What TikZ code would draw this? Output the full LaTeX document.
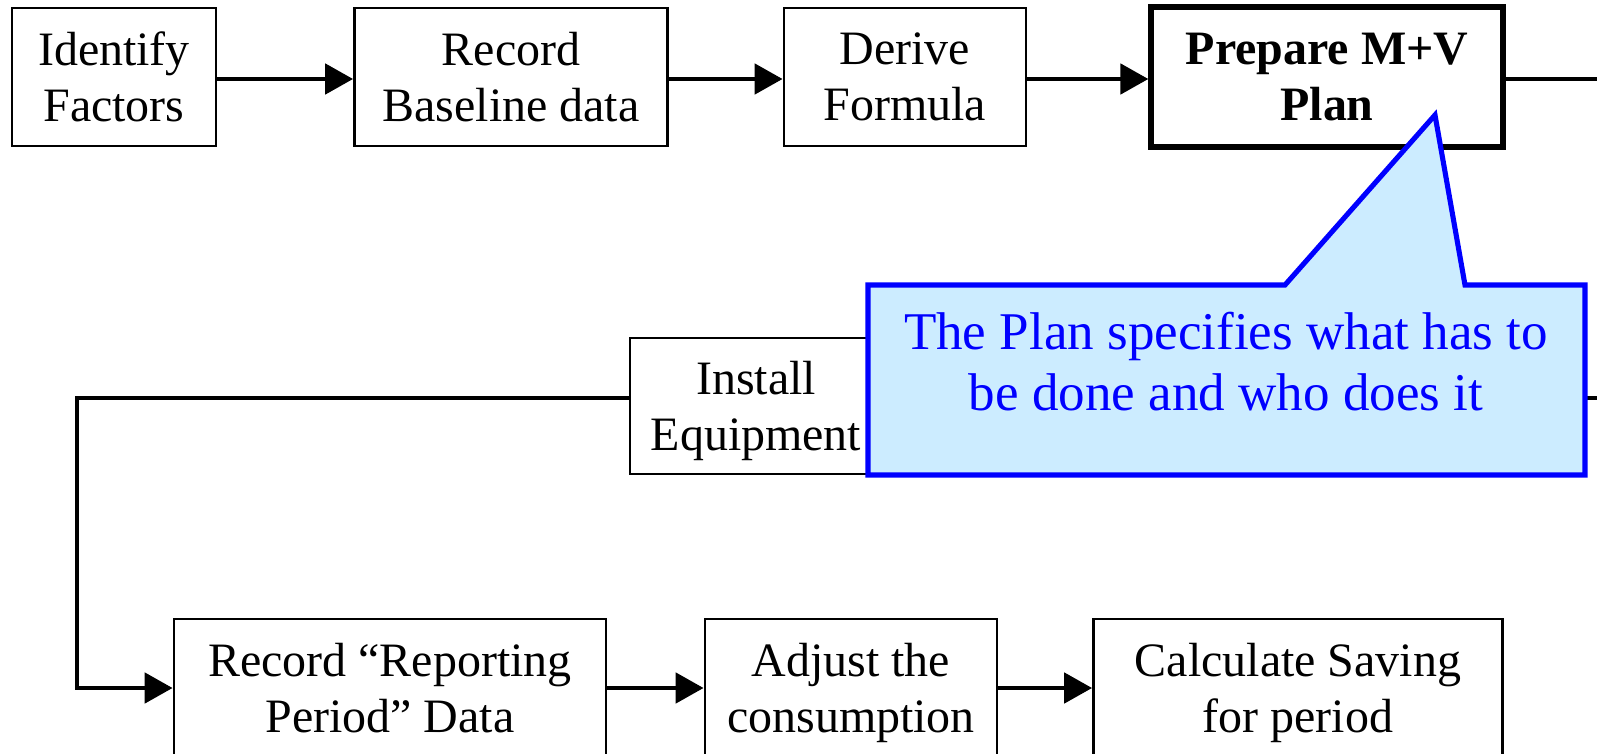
\documentclass[tikz,border=0pt]{standalone}
\usepackage{fontspec}
\setmainfont{Liberation Serif}
\usepackage{tikz}
\usetikzlibrary{arrows.meta}

\definecolor{noteblue}{RGB}{0,0,255}
\definecolor{notefill}{RGB}{204,236,255}

\tikzset{
  box/.style={draw, line width=1.6pt, inner sep=0pt, align=center, text depth=0pt,
    minimum height=2.76cm, font=\fontsize{27.3}{31.9}\selectfont},
  flow/.style={line width=2.8pt, -{Triangle[length=0.56cm,width=0.6cm]}},
  link/.style={line width=2.8pt},
}

\begin{document}
\begin{tikzpicture}[x=0.02cm, y=-0.02cm]
    \useasboundingbox (0,0) rectangle (1597,754);

    %top row
    \node[box, minimum width=4.08cm] (idf) at (114,77) {Identify\\Factors};
    \node[box, minimum width=6.26cm] (rec) at (511,77) {Record\\Baseline data};
    \node[box, minimum width=4.84cm] (der) at (905,77) {Derive\\Formula};
    \node[box, minimum width=7.04cm, minimum height=2.8cm, line width=3pt,
      font=\fontsize{27.3}{31.9}\selectfont\bfseries] (prep) at (1327,77) {Prepare M+V\\Plan};

    \coordinate (rowA) at (0,79);
    \draw[flow] (idf.east |- rowA) -- (rec.west |- rowA);
    \draw[flow] (rec.east |- rowA) -- (der.west |- rowA);
    \draw[flow] (der.east |- rowA) -- (prep.west |- rowA);

    %middle row
    \node[box, minimum width=5.04cm, minimum height=2.72cm] (inst) at (756,406) {Install\\Equipment};

    \coordinate (outA) at (1610,79);
    \coordinate (outB) at (1610,398);
    \coordinate (turnA) at (77,398);
    \coordinate (turnB) at (77,688);

    \draw[link] (prep.east |- outA) -- (outA); %goes off the page
    \draw[link] (outB) -- (inst.east |- outB);

    %bottom row
    \node[box, minimum width=8.64cm] (recrep) at (390,688) {Record “Reporting\\Period” Data};
    \node[box, minimum width=5.84cm] (adj) at (851,688) {Adjust the\\consumption};
    \node[box, minimum width=8.18cm] (calc) at (1298,688) {Calculate Saving\\for period};

    \draw[flow] (inst.west |- turnA) -- (turnA) -- (turnB) -- (recrep);
    \draw[flow] (recrep) -- (adj);
    \draw[flow] (adj) -- (calc);

    %callout
    \draw[line width=2.9pt, draw=noteblue, fill=notefill]
      (868,285) -- (1285,285) -- (1435,115) -- (1465,285) -- (1585,285)
      -- (1585,475) -- (868,475) -- cycle;
    \node[text=noteblue, align=center, font=\fontsize{30.2}{34.7}\selectfont] (note) at (1226,362)
      {The Plan specifies what has to\\be done and who does it};
\end{tikzpicture}
\end{document}
